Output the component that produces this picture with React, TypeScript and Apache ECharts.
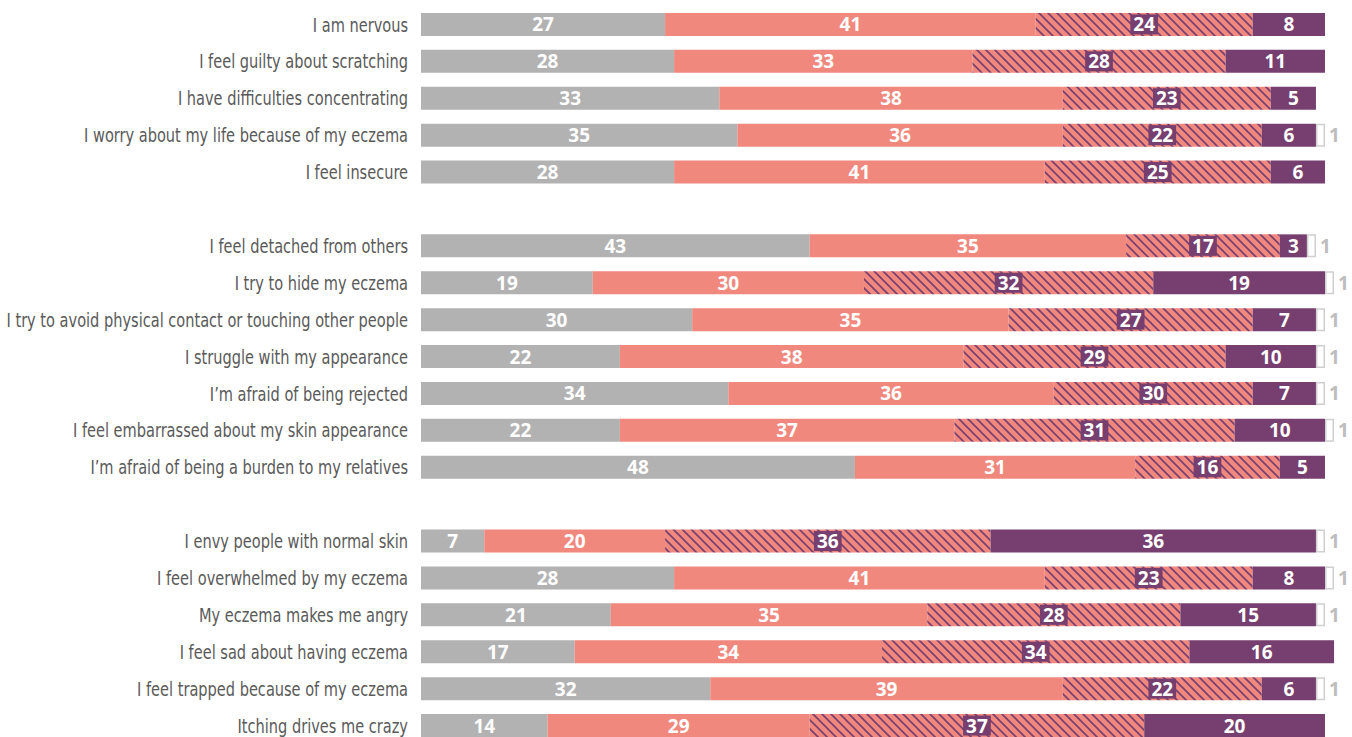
import React, { useEffect, useRef } from "react";
import * as echarts from "echarts";

const categories = [
  "I am nervous",
  "I feel guilty about scratching",
  "I have difficulties concentrating",
  "I worry about my life because of my eczema",
  "I feel insecure",
  " ",
  "I feel detached from others",
  "I try to hide my eczema",
  "I try to avoid physical contact or touching other people",
  "I struggle with my appearance",
  "I\u2019m afraid of being rejected",
  "I feel embarrassed about my skin appearance",
  "I\u2019m afraid of being a burden to my relatives",
  "  ",
  "I envy people with normal skin",
  "I feel overwhelmed by my eczema",
  "My eczema makes me angry",
  "I feel sad about having eczema",
  "I feel trapped because of my eczema",
  "Itching drives me crazy",
];

const grayValues = [27, 28, 33, 35, 28, null, 43, 19, 30, 22, 34, 22, 48, null, 7, 28, 21, 17, 32, 14];
const salmonValues = [41, 33, 38, 36, 41, null, 35, 30, 35, 38, 36, 37, 31, null, 20, 41, 35, 34, 39, 29];
// bar lengths of the hatched segment as drawn
const hatchedValues = [24, 28, 23, 22, 25, null, 17, 32, 27, 29, 22, 31, 16, null, 36, 23, 28, 34, 22, 37];
// numbers printed on the hatched segment
const hatchedLabels = [24, 28, 23, 22, 25, null, 17, 32, 27, 29, 30, 31, 16, null, 36, 23, 28, 34, 22, 37];
const purpleValues = [8, 11, 5, 6, 6, null, 3, 19, 7, 10, 7, 10, 5, null, 36, 8, 15, 16, 6, 20];
const whiteValues = [null, null, null, 1, null, null, 1, 1, 1, 1, 1, 1, null, null, 1, 1, 1, null, 1, null];

const GRAY = "#b2b2b2";
const SALMON = "#f0887e";
const PURPLE = "#763f6f";

function makeHatch() {
  const N = 9;
  const c = document.createElement("canvas");
  c.width = N;
  c.height = N;
  const ctx = c.getContext("2d")!;
  ctx.fillStyle = SALMON;
  ctx.fillRect(0, 0, N, N);
  ctx.strokeStyle = PURPLE;
  ctx.lineWidth = 1.6;
  for (const k of [-N, 0, N]) {
    ctx.beginPath();
    ctx.moveTo(-2, -2 + k);
    ctx.lineTo(N + 2, N + 2 + k);
    ctx.stroke();
  }
  return c;
}

export default function App() {
  const ref = useRef<HTMLDivElement>(null);
  useEffect(() => {
    document.body.style.margin = "0";
    const chart = echarts.init(ref.current!, undefined, { renderer: "svg" });
    const valueLabel = {
      show: true,
      position: "inside",
      color: "#ffffff",
      fontFamily: "'Open Sans', sans-serif",
      fontWeight: "bold",
      fontSize: 19,
      formatter: (p: any) => (p.value == null ? "" : String(p.value)),
    };
    const base = {
      type: "bar",
      stack: "total",
      barWidth: 23,
      clip: false,
      emphasis: { disabled: true },
    };
    chart.setOption({
      animation: false,
      grid: {
        left: 421,
        top: 6,
        width: 904,
        height: 738,
        containLabel: false,
        outerBoundsMode: "none",
      },
      xAxis: { type: "value", min: 0, max: 100, show: false },
      yAxis: {
        type: "category",
        data: categories,
        inverse: true,
        axisLine: { show: false },
        axisTick: { show: false },
        splitLine: { show: false },
        axisLabel: { show: false },
      },
      series: [
        { ...base, name: "gray", data: grayValues, itemStyle: { color: GRAY }, label: valueLabel },
        { ...base, name: "salmon", data: salmonValues, itemStyle: { color: SALMON }, label: valueLabel },
        {
          ...base,
          name: "hatched",
          data: hatchedValues,
          itemStyle: { color: { image: makeHatch(), repeat: "repeat" } },
          label: {
            ...valueLabel,
            backgroundColor: PURPLE,
            padding: [1, 3, 0, 3],
            formatter: (p: any) =>
              hatchedLabels[p.dataIndex] == null ? "" : String(hatchedLabels[p.dataIndex]),
          },
        },
        { ...base, name: "purple", data: purpleValues, itemStyle: { color: PURPLE }, label: valueLabel },
        {
          ...base,
          name: "white",
          data: whiteValues,
          itemStyle: { color: "#ffffff", borderColor: "#cfcfcf", borderWidth: 1.5 },
          label: {
            ...valueLabel,
            position: "right",
            distance: 4,
            color: "#bdbdbd",
          },
        },
      ],
    });
    const labelX = 421 - 13;
    const graphics = categories
      .map((name, i) => {
        if (!name.trim()) return null;
        const y = chart.convertToPixel({ yAxisIndex: 0 }, i) as number;
        return {
          type: "text",
          x: labelX,
          y,
          scaleX: 0.81,
          silent: true,
          style: {
            text: name,
            align: "right",
            verticalAlign: "middle",
            fill: "#5a5a5a",
            fontSize: 20,
            fontFamily: "'DejaVu Sans Condensed', 'DejaVu Sans', sans-serif",
          },
        };
      })
      .filter(Boolean);
    chart.setOption({ graphic: graphics });
    return () => chart.dispose();
  }, []);
  return <div ref={ref} style={{ width: 1352, height: 737 }} />;
}
